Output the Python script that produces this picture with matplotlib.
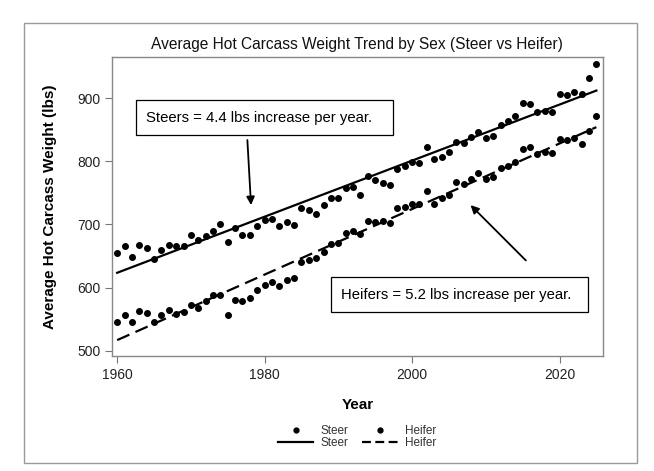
import numpy as np
import matplotlib
matplotlib.use('Agg')
import matplotlib.pyplot as plt
from matplotlib.patches import Rectangle
from matplotlib.lines import Line2D

plt.rcParams['font.family'] = ['Liberation Sans', 'DejaVu Sans']

# Yearly averages (lbs)
years = np.arange(1960, 2026)
steer = [655, 666, 648, 668, 662, 645, 660, 667, 666, 666,
         683, 675, 682, 690, 700, 672, 695, 683, 683, 698,
         707, 709, 697, 703, 699, 726, 722, 717, 730, 741,
         742, 758, 759, 746, 776, 770, 766, 763, 788, 793,
         798, 797, 823, 804, 806, 815, 831, 829, 838, 846,
         836, 840, 858, 863, 872, 892, 890, 878, 880, 878,
         906, 905, 909, 907, 931, 954]
heifer = [546, 557, 546, 563, 559, 545, 556, 564, 558, 562,
          572, 567, 579, 588, 588, 557, 580, 579, 583, 596,
          604, 608, 603, 612, 615, 640, 644, 647, 656, 669,
          671, 687, 690, 685, 706, 704, 706, 702, 726, 727,
          733, 732, 753, 733, 741, 747, 767, 764, 772, 781,
          772, 775, 790, 793, 799, 820, 822, 812, 815, 813,
          835, 834, 837, 828, 848, 871]

title = 'Average Hot Carcass Weight Trend by Sex (Steer vs Heifer)'
steer_note = 'Steers = 4.4 lbs increase per year.'
heifer_note = 'Heifers = 5.2 lbs increase per year.'

fig = plt.figure(figsize=(6.54, 4.71), dpi=100)
ax = fig.add_axes([112 / 654, 1 - 356 / 471, 491 / 654, 299 / 471])

# outer frame around the whole graphic
fig.patches.append(Rectangle((24 / 654, 1 - 463 / 471), 613 / 654, 440 / 471,
                             transform=fig.transFigure, fill=False,
                             edgecolor='#9a9a9a', linewidth=1))

ax.plot(years, steer, 'o', color='black', markersize=4)
ax.plot(years, heifer, 'o', color='black', markersize=4)

# linear trends
s_fit = np.polyfit(years, steer, 1)
h_fit = np.polyfit(years, heifer, 1)
xs = np.array([years[0], years[-1]])
ax.plot(xs, np.polyval(s_fit, xs), color='black', linewidth=1.6)
ax.plot(xs, np.polyval(h_fit, xs), color='black', linewidth=1.6,
        dashes=(6, 3))

ax.set_xlim(1959.3, 2025.9)
ax.set_ylim(491.6, 965)
ax.set_xticks([1960, 1980, 2000, 2020])
ax.set_yticks([500, 600, 700, 800, 900])
ax.tick_params(direction='out', length=5, color='#777777', labelsize=10,
               labelcolor='#222222')
for sp in ax.spines.values():
    sp.set_color('#888888')
    sp.set_linewidth(1)

ax.set_xlabel('Year', fontsize=11, fontweight='bold', labelpad=12)
ax.set_ylabel('Average Hot Carcass Weight (lbs)', fontsize=11,
              fontweight='bold', labelpad=14)
fig.text(357 / 654, 1 - 44 / 471, title, ha='center', va='center',
         fontsize=11.2, color='#111111')

# annotation boxes
ax.add_patch(Rectangle((1962.6, 841.4), 34.8, 54.8, fill=False,
                       edgecolor='black', linewidth=0.9, zorder=5))
ax.text(1963.9, 868.8, steer_note, fontsize=10.7, va='center', ha='left',
        zorder=6)
ax.annotate('', xy=(1978.18, 726.1), xytext=(1977.64, 837.9),
            arrowprops=dict(arrowstyle='-|>', color='black', lw=1.3,
                            mutation_scale=12))

ax.add_patch(Rectangle((1989.0, 560.5), 34.9, 55.5, fill=False,
                       edgecolor='black', linewidth=0.9, zorder=5))
ax.text(1990.3, 588.3, heifer_note, fontsize=10.7, va='center', ha='left',
        zorder=6)
ax.annotate('', xy=(2007.67, 733.6), xytext=(2015.7, 639.8),
            arrowprops=dict(arrowstyle='-|>', color='black', lw=1.3,
                            mutation_scale=12))

handles = [
    Line2D([], [], marker='o', linestyle='none', color='black', markersize=3.5),
    Line2D([], [], color='black', linewidth=1.6),
    Line2D([], [], marker='o', linestyle='none', color='black', markersize=3.5),
    Line2D([], [], color='black', linewidth=1.6, dashes=(4, 2)),
]
labels = ['Steer', 'Steer', 'Heifer', 'Heifer']
fig.legend(handles, labels, ncol=2, loc='center',
           bbox_to_anchor=(357 / 654, 1 - 437 / 471), frameon=False,
           fontsize=8.5, handlelength=3.0, columnspacing=1.2,
           labelspacing=0.05, handletextpad=0.6, labelcolor='#333333')

plt.savefig('out.png', dpi=100)
